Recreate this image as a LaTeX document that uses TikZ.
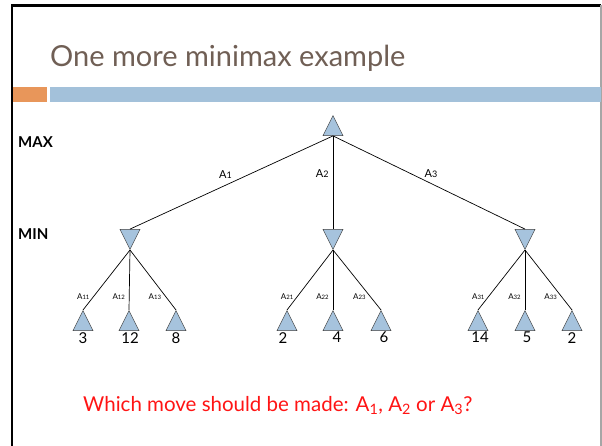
\documentclass[tikz,border=0pt]{standalone}
\usepackage{fontspec}
\setmainfont{Lato}
\usetikzlibrary{shapes.geometric}
\definecolor{TitleBrown}{HTML}{705F55}
\definecolor{BarOrange}{HTML}{E8965A}
\definecolor{BarBlue}{HTML}{A3C1DA}
\definecolor{TriBlue}{HTML}{A6C3DD}
\definecolor{AskRed}{HTML}{FF1414}
% move labels: A with smaller digits
\newcommand{\bigact}[1]{A{\fontsize{9}{9}\selectfont#1}}
\newcommand{\smallact}[1]{A{\fontsize{6}{6}\selectfont#1}}

\begin{document}
\begin{tikzpicture}[x=1pt, y=-1pt,
        tri/.style      = {isosceles triangle, isosceles triangle stretches, draw=black!75, fill=TriBlue,
                           minimum width=20pt, minimum height=20pt, inner sep=0pt, line width=0.5pt},
        maxnode/.style  = {tri, shape border rotate=90, anchor=apex},
        minnode/.style  = {tri, shape border rotate=270, anchor=apex},
        edge/.style     = {draw, line width=0.7pt},
        toplbl/.style   = {font=\fontsize{11}{11}\selectfont, inner sep=1pt},
        leaflbl/.style  = {font=\fontsize{8}{8}\selectfont, inner sep=1pt, pos=0.77, left=3pt},
        valuelbl/.style = {font=\fontsize{15}{15}\selectfont, inner sep=0pt, anchor=north},
        level/.style    = {font=\bfseries\fontsize{15}{15}\selectfont, inner sep=0pt, anchor=base west}
    ]
    \useasboundingbox (0,0) rectangle (602,446);

    % --- slide frame and title bar ---
    \draw[line width=2.5pt] (12,446) -- (12,5.5) -- (601,5.5);
    \draw[black!35, line width=1.2pt] (601,5) -- (601,446);
    \fill[BarOrange] (13,87) rectangle (47,102);
    \fill[BarBlue] (50,87) rectangle (601,102);
    \node[anchor=base west, inner sep=0pt, text=TitleBrown, font=\fontsize{29}{29}\selectfont] (title) at (50,67) {One more minimax example};

    \node[level] (maxlbl) at (18,148) {MAX};
    \node[level] (minlbl) at (18,240) {MIN};

    % --- tree ---
    \node[maxnode] (root) at (333,115) {};

    \node[minnode] (n1) at (130,250) {};
    \node[minnode] (n2) at (333,250) {};
    \node[minnode] (n3) at (525,250) {};

    \node[maxnode] (l11) at (83,310) {};
    \node[maxnode] (l12) at (129,310) {};
    \node[maxnode] (l13) at (176,310) {};
    \node[maxnode] (l21) at (287,310) {};
    \node[maxnode] (l22) at (333,310) {};
    \node[maxnode] (l23) at (381,310) {};
    \node[maxnode] (l31) at (478,310) {};
    \node[maxnode] (l32) at (525,310) {};
    \node[maxnode] (l33) at (572,310) {};

    % leaf values
    \node[valuelbl] (v11) at (83,332) {3};
    \node[valuelbl] (v12) at (130,332) {12};
    \node[valuelbl] (v13) at (176,332) {8};
    \node[valuelbl] (v21) at (283,332) {2};
    \node[valuelbl] (v22) at (337,332) {4};
    \node[valuelbl] (v23) at (384,332) {6};
    \node[valuelbl] (v31) at (480,332) {14};
    \node[valuelbl] (v32) at (527,332) {5};
    \node[valuelbl] (v33) at (572,332) {2};

    % edges
    \draw[edge] (root.lower side) -- node[toplbl, pos=0.53, above=5pt] {\bigact{1}} (n1.lower side);
    \draw[edge] (root.lower side) -- node[toplbl, pos=0.4, left=3pt] {\bigact{2}} (n2.lower side);
    \draw[edge] (root.lower side) -- node[toplbl, pos=0.51, above=5pt] {\bigact{3}} (n3.lower side);

    \draw[edge] (n1.apex) -- node[leaflbl] {\smallact{11}} (l11.apex);
    \draw[edge] (n1.apex) -- node[leaflbl] {\smallact{12}} (l12.apex);
    \draw[edge] (n1.apex) -- node[leaflbl] {\smallact{13}} (l13.apex);
    \draw[edge] (n2.apex) -- node[leaflbl] {\smallact{21}} (l21.apex);
    \draw[edge] (n2.apex) -- node[leaflbl] {\smallact{22}} (l22.apex);
    \draw[edge] (n2.apex) -- node[leaflbl] {\smallact{23}} (l23.apex);
    \draw[edge] (n3.apex) -- node[leaflbl] {\smallact{31}} (l31.apex);
    \draw[edge] (n3.apex) -- node[leaflbl] {\smallact{32}} (l32.apex);
    \draw[edge] (n3.apex) -- node[leaflbl] {\smallact{33}} (l33.apex);

    % --- question ---
    \node[anchor=base west, inner sep=0pt, text=AskRed, font=\fontsize{20.5}{20.5}\selectfont] (question) at (83,411)
        {Which move should be made: A\textsubscript{1}, A\textsubscript{2} or A\textsubscript{3}?};
\end{tikzpicture}
\end{document}
